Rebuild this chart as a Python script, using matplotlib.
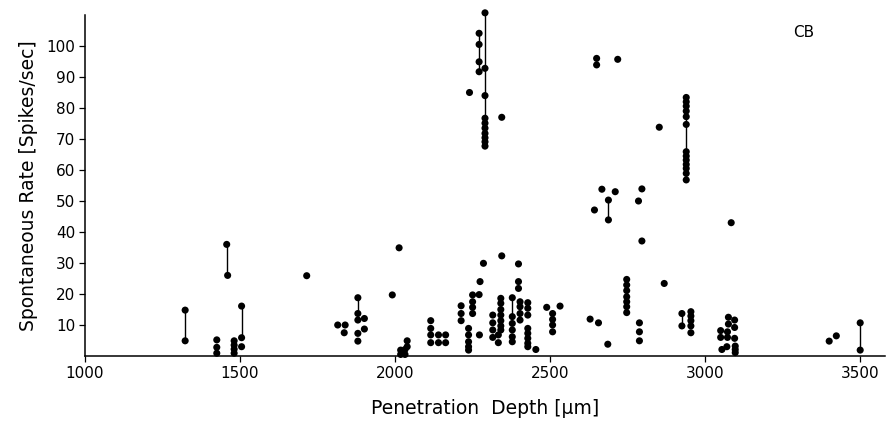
import numpy as np
import matplotlib
matplotlib.use("Agg")
from matplotlib import pyplot as plt

# depth [um] and spontaneous rate [spikes/sec] of every unit
depth = [
    1323, 1323,
    1457, 1460,
    1425, 1425, 1425,
    1481, 1481, 1481, 1481,
    1505, 1505, 1505,
    1715,
    1815, 1839, 1836,
    1880, 1880, 1880, 1880, 1880, 1901, 1901,
    1991, 2013,
    2018, 2018, 2032, 2032, 2039, 2039,
    2115, 2115, 2115, 2115,
    2140, 2140, 2163, 2163,
    2213, 2213, 2213,
    2237, 2237, 2237, 2237, 2237,
    2250, 2250, 2250, 2250,
    2272, 2271, 2274, 2285,
    2290, 2290, 2290, 2290, 2290, 2290, 2290, 2290, 2290, 2290,
    2271, 2271, 2271, 2271,
    2240, 2344, 2344,
    2315, 2315, 2315, 2315, 2333, 2333,
    2341, 2341, 2341, 2341, 2341, 2341, 2341,
    2378, 2378, 2378, 2378, 2378, 2378,
    2398, 2398, 2398,
    2403, 2403, 2403, 2403,
    2428, 2428, 2428, 2428, 2428, 2428, 2428, 2428,
    2454, 2489,
    2508, 2508, 2508, 2508,
    2532,
    2629, 2656, 2686,
    2747, 2747, 2747, 2747, 2747, 2747, 2747,
    2788, 2788, 2788,
    2868,
    2925, 2925,
    2954, 2954, 2954, 2954, 2954,
    2650, 2650, 2718,
    2667, 2643, 2688, 2688, 2710,
    2785, 2796, 2796, 2852,
    2939, 2939, 2939, 2939, 2939, 2939, 2939, 2939, 2939, 2939, 2939, 2939, 2939,
    3084,
    3075, 3095, 3075, 3095, 3050, 3072, 3050, 3072, 3095, 3054, 3070, 3097, 3097, 3097,
    3400, 3423,
    3500, 3500,
]
rate = [
    14.8, 4.9,
    36.0, 26.0,
    5.2, 2.8, 0.9,
    4.9, 3.5, 2.2, 0.9,
    16.1, 5.9, 3.0,
    25.9,
    10.0, 10.0, 7.5,
    18.8, 13.7, 11.6, 7.3, 4.8, 12.1, 8.7,
    19.7, 34.9,
    1.9, 0.5, 2.1, 0.5, 4.9, 3.0,
    11.4, 8.9, 6.8, 4.3,
    6.8, 4.3, 6.8, 4.3,
    16.2, 13.7, 11.4,
    8.9, 6.8, 4.6, 3.0, 1.9,
    19.7, 17.5, 15.7, 13.7,
    6.8, 19.8, 24.0, 29.9,
    110.7, 92.8, 84.0, 76.7, 75.1, 73.5, 71.8, 70.4, 69.1, 67.7,
    104.1, 100.5, 94.9, 91.7,
    85.0, 77.0, 32.3,
    13.2, 10.7, 8.4, 6.0, 6.8, 4.3,
    18.6, 17.0, 15.0, 13.2, 11.4, 9.7, 8.4,
    18.8, 12.7, 10.5, 8.4, 6.2, 4.6,
    29.7, 24.0, 21.8,
    17.5, 15.9, 13.7, 11.6,
    17.2, 15.4, 13.2, 8.9, 7.3, 5.7, 4.1, 3.0,
    2.1, 15.7,
    13.7, 11.8, 10.0, 7.8,
    16.1,
    11.9, 10.7, 3.8,
    24.7, 22.9, 21.1, 19.1, 17.5, 15.9, 14.0,
    10.7, 7.8, 4.9,
    23.4,
    13.7, 9.7,
    14.3, 12.9, 11.4, 9.7, 7.5,
    96.0, 93.9, 95.7,
    53.8, 47.1, 50.3, 43.9, 53.0,
    50.0, 53.9, 37.1, 73.8,
    83.4, 82.0, 80.6, 79.0, 77.2, 74.7, 65.9, 64.5, 63.2, 61.8, 60.5, 58.9, 56.8,
    43.0,
    12.5, 11.6, 10.3, 9.2, 8.2, 7.8, 6.0, 6.0, 5.7, 2.1, 3.0, 3.2, 2.1, 1.1,
    4.8, 6.5,
    10.7, 1.9,
]

# vertical lines joining units recorded at the same site
link_depth = [1323, 1458, 1505, 1880, 2290, 2271, 2378, 2688, 2925, 2939, 3500]
link_lo = [4.9, 26.0, 5.9, 13.7, 67.7, 91.7, 12.7, 43.9, 9.7, 56.8, 1.9]
link_hi = [14.8, 36.0, 16.1, 18.8, 110.7, 104.1, 18.8, 50.3, 13.7, 83.4, 10.7]

plt.rcParams['font.family'] = ['DejaVu Sans']

fig = plt.figure(figsize=(8.86, 4.24), dpi=100)
ax = fig.add_axes([85 / 886, 1 - 356 / 424, 800 / 886, 341 / 424])

ax.vlines(link_depth, link_lo, link_hi, color='black', linewidth=1.0, clip_on=False)
ax.scatter(depth, rate, s=26, color='black', edgecolors='none', zorder=3, clip_on=False)

ax.set_xlim(1000, 3580)
ax.set_ylim(0, 110)
ax.set_xticks([1000, 1500, 2000, 2500, 3000, 3500])
ax.set_yticks(np.arange(10, 101, 10))
ax.tick_params(direction='out', length=4, width=0.9, labelsize=11, pad=3)

for side in ['top', 'right']:
    ax.spines[side].set_visible(False)
for side in ['left', 'bottom']:
    ax.spines[side].set_linewidth(1.1)

ax.set_xlabel("Penetration  Depth [μm]", fontsize=13.5, labelpad=13)
ax.set_ylabel("Spontaneous Rate [Spikes/sec]", fontsize=13.5, labelpad=6)
ax.text(0.885, 0.97, "CB", transform=ax.transAxes, fontsize=11, va='top', ha='left')

fig.savefig("out.png", dpi=100)
